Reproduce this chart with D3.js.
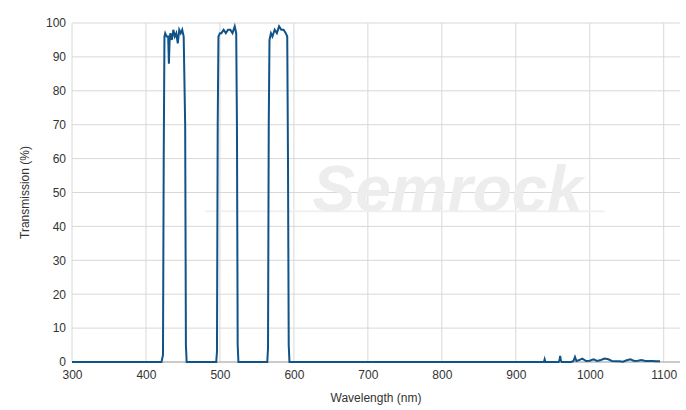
<!DOCTYPE html>
<html><head><meta charset="utf-8">
<script src="https://cdn.jsdelivr.net/npm/d3@7"></script>
<style>body{margin:0;background:#fff;font-family:Arial,"Liberation Sans",sans-serif}</style>
</head><body><div id="chart"></div>
<script>
// spectrum samples (nm, %T)
var wavelength = [300,421,423,424,425,426,428,430,431,432,433,435,437,439,441,443,445,447,449,451,453,454,455,456,458,
  492,495,496,497,498,500,502,505,508,511,514,517,520,522,523,524,525,527,
  562,564,565,566,567,569,571,574,577,580,583,586,589,591,592,593,594,596,
  700,900,938,939,940,958,959,960,961,962,975,978,980,982,985,990,995,1000,1005,1010,1015,1020,1025,1030,1035,1040,1045,1050,1055,1060,1065,1070,1075,1080,1085,1090,1095,1100,1110];
var transmission = [0,0,2,60,96,97,96,96,88,95,97,95,98,96,97,94,98,97,98,96,70,5,0,0,0,
  0,0,3,70,96,97,97,98,97,98,98,97,99,97,70,5,0,0,
  0,0,4,70,95,97,96,98,97,99,98,98,97,96,60,5,0,0,
  0,0,0,0.8,0,0,0.5,1.8,0.4,0,0,0.3,1.5,0.3,0.5,1.0,0.3,0.4,0.8,0.3,0.6,1.0,0.8,0.3,0.2,0.2,0.1,0.5,0.8,0.3,0.4,0.6,0.3,0.3,0.3,0.2,0.2];
var xTicks = [300,400,500,600,700,800,900,1000,1100];
var yTicks = [0,10,20,30,40,50,60,70,80,90,100];

var svgWidth = 686, svgHeight = 410;
var margin = {top: 23, right: 6, bottom: 48, left: 72};
var chartWidth = svgWidth - margin.left - margin.right;
var chartHeight = svgHeight - margin.top - margin.bottom;

var svg = d3.select("#chart").append("svg")
  .attr("width", svgWidth).attr("height", svgHeight);
var g = svg.append("g").attr("transform", `translate(${margin.left},${margin.top})`);

var xScale = d3.scaleLinear().domain([300, 1122]).range([0, chartWidth]);
var yScale = d3.scaleLinear().domain([0, 100]).range([chartHeight, 0]);

// grid
g.selectAll(".vg").data(xTicks).enter().append("line")
  .attr("x1", d => xScale(d)).attr("x2", d => xScale(d))
  .attr("y1", 0).attr("y2", chartHeight).attr("stroke", "#d8d8d8");
g.selectAll(".hg").data(yTicks).enter().append("line")
  .attr("x1", 0).attr("x2", chartWidth)
  .attr("y1", d => yScale(d)).attr("y2", d => yScale(d)).attr("stroke", "#d8d8d8");

// watermark
g.append("line").attr("x1", xScale(480)).attr("x2", xScale(1020))
  .attr("y1", yScale(44.5)).attr("y2", yScale(44.5)).attr("stroke", "#f0f0f0").attr("stroke-width", 2);
g.append("text").attr("x", xScale(808)).attr("y", yScale(44.5))
  .attr("text-anchor", "middle").attr("font-size", 64).attr("font-weight", "bold")
  .attr("font-style", "italic").attr("fill", "#ededed").attr("font-family", "Liberation Sans, Arial, sans-serif")
  .text("Semrock");

var xAxis = d3.axisBottom(xScale).tickValues(xTicks).tickFormat(d3.format("d")).tickSize(0).tickPadding(8);
var yAxis = d3.axisLeft(yScale).tickValues(yTicks).tickSize(0).tickPadding(6);
var gx = g.append("g").attr("transform", `translate(0,${chartHeight})`).call(xAxis);
var gy = g.append("g").call(yAxis);
[gx, gy].forEach(a => {
  a.select(".domain").remove();
  a.selectAll("text").attr("font-size", 12).attr("fill", "#333").attr("font-family", "Liberation Sans, Arial, sans-serif");
});
g.append("line").attr("x1", 0).attr("x2", chartWidth).attr("y1", chartHeight).attr("y2", chartHeight).attr("stroke", "#aaa");

var data = wavelength.map((w, i) => [w, transmission[i]]);
g.append("path").datum(data)
  .attr("fill", "none").attr("stroke", "#0f5389").attr("stroke-width", 2)
  .attr("d", d3.line().x(d => xScale(d[0])).y(d => yScale(d[1])));

svg.append("text").attr("x", margin.left + chartWidth / 2).attr("y", 402)
  .attr("text-anchor", "middle").attr("font-size", 12).attr("fill", "#333").text("Wavelength (nm)");
svg.append("text").attr("transform", "rotate(-90)")
  .attr("x", -(margin.top + chartHeight / 2)).attr("y", 29)
  .attr("text-anchor", "middle").attr("font-size", 12).attr("fill", "#333").text("Transmission (%)");
</script></body></html>
